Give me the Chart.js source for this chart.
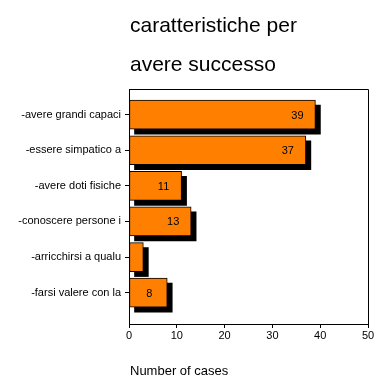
<!DOCTYPE html>
<html>
<head>
<meta charset="utf-8">
<script src="https://cdn.jsdelivr.net/npm/chart.js@4/dist/chart.umd.min.js"></script>
<style>
  body { margin: 0; background: #fff; }
  canvas { display: block; }
</style>
</head>
<body>
<canvas id="chart" width="388" height="388"></canvas>
<script>
const titleLines = ['caratteristiche per', 'avere successo'];
const categories = [
  '-avere grandi capaci',
  '-essere simpatico a',
  '-avere doti fisiche',
  '-conoscere persone i',
  '-arricchirsi a qualu',
  '-farsi valere con la'
];
const counts = [39, 37, 11, 13, 3, 8];
const xTicks = [0, 10, 20, 30, 40, 50];
const xTitle = 'Number of cases';

const FONT = '"Liberation Sans", Arial, sans-serif';
Chart.defaults.color = '#000';
Chart.defaults.font.family = FONT;

const points = counts.map((v, i) => ({ x: v, y: i }));

// black shadow (dataset 1) drawn 5px right/down of the orange bars
const shadowPlugin = {
  id: 'shadow',
  beforeDatasetDraw(chart, args) {
    if (args.index === 1) {
      chart.ctx.save();
      chart.ctx.translate(5, 5);
    }
  },
  afterDatasetDraw(chart, args) {
    if (args.index === 1) chart.ctx.restore();
  }
};

const extrasPlugin = {
  id: 'extras',
  afterDraw(chart) {
    const { ctx, chartArea: a } = chart;
    ctx.save();
    // frame top and right
    ctx.strokeStyle = '#000';
    ctx.lineWidth = 1;
    ctx.beginPath();
    ctx.moveTo(a.left, a.top + 0.5);
    ctx.lineTo(a.right + 0.5, a.top + 0.5);
    ctx.lineTo(a.right + 0.5, a.bottom);
    ctx.stroke();

    // value labels inside bars
    ctx.fillStyle = '#000';
    ctx.font = '11px ' + FONT;
    ctx.textAlign = 'center';
    ctx.textBaseline = 'middle';
    chart.getDatasetMeta(0).data.forEach((bar, i) => {
      if (bar.x - bar.base > 25) ctx.fillText(String(counts[i]), bar.x - 18, bar.y + 1);
    });

    // titles
    ctx.textAlign = 'left';
    ctx.textBaseline = 'alphabetic';
    ctx.font = '21px ' + FONT;
    ctx.fillText(titleLines[0], 130, 32);
    ctx.fillText(titleLines[1], 130, 71);
    ctx.font = '13px ' + FONT;
    ctx.fillText(xTitle, 130, 375);
    ctx.restore();
  }
};

new Chart(document.getElementById('chart').getContext('2d'), {
  type: 'bar',
  data: {
    datasets: [{
      data: points,
      backgroundColor: '#ff8000',
      borderColor: '#000',
      borderWidth: 1,
      borderSkipped: false,
      barThickness: 29
    }, {
      data: points,
      backgroundColor: '#000',
      borderWidth: 0,
      barThickness: 29
    }]
  },
  options: {
    indexAxis: 'y',
    responsive: false,
    animation: false,
    grouped: false,
    layout: { padding: { top: 89, right: 20, left: 0, bottom: 0 } },
    plugins: { legend: { display: false }, tooltip: { enabled: false } },
    scales: {
      x: {
        type: 'linear',
        min: 0,
        max: 50,
        afterBuildTicks: s => { s.ticks = xTicks.map(v => ({ value: v })); },
        afterFit: s => { s.height = 64; },
        ticks: { font: { size: 11 }, padding: 1, maxRotation: 0 },
        grid: { drawOnChartArea: false, tickLength: 4, color: '#000' },
        border: { display: true, color: '#000' }
      },
      y: {
        type: 'linear',
        reverse: true,
        offset: false,
        min: -0.72,
        max: 5.88,
        afterBuildTicks: s => { s.ticks = categories.map((_, i) => ({ value: i })); },
        afterFit: s => { s.width = 129; },
        ticks: { font: { size: 11 }, padding: 4, callback: v => categories[v] },
        grid: { offset: false, drawOnChartArea: false, tickLength: 4, color: '#000' },
        border: { display: true, color: '#000' }
      }
    }
  },
  plugins: [shadowPlugin, extrasPlugin]
});
</script>
</body>
</html>
